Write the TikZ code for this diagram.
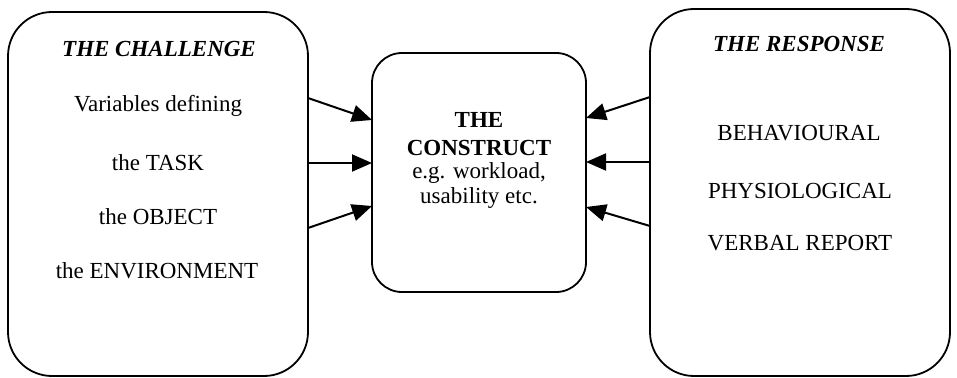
\documentclass[tikz,border=0pt]{standalone}
\usepackage{fontspec}
\setmainfont{Liberation Serif}
\usetikzlibrary{arrows.meta}
\tikzset{
  bigbox/.style={draw, line width=1.8pt, inner sep=0pt, outer sep=0pt},
  txt/.style={anchor=base, inner sep=0pt, font=\fontsize{23}{26}\selectfont},
  head/.style={txt, font=\fontsize{23}{26}\selectfont\bfseries\itshape},
  conn/.style={line width=2pt, -{Triangle[length=20pt,width=17pt]}}
}
\begin{document}
\begin{tikzpicture}[x=1pt,y=-1pt]
\useasboundingbox (0,0) rectangle (957,377);
% boxes
\node[bigbox, rounded corners=44pt, minimum width=300pt, minimum height=364pt] (L) at (158,194) {};
\node[bigbox, rounded corners=30pt, minimum width=214pt, minimum height=239pt] (C) at (479,172.5) {};
\node[bigbox, rounded corners=44pt, minimum width=300pt, minimum height=367pt] (R) at (800,192.5) {};
% left texts
\node[head] (lh) at (159,57) {THE CHALLENGE};
\node[txt] (l1) at (158,112) {Variables defining};
\node[txt] (l2) at (158,170) {the TASK};
\node[txt] (l3) at (158,224) {the OBJECT};
\node[txt] (l4) at (157,278) {the ENVIRONMENT};
% centre texts
\node[txt, font=\fontsize{23}{26}\selectfont\bfseries] (c1) at (479,128) {THE};
\node[txt, font=\fontsize{23}{26}\selectfont\bfseries] (c2) at (479,155) {CONSTRUCT};
\node[txt] (c3) at (479,178) {e.g. workload,};
\node[txt] (c4) at (479,203) {usability etc.};
% right texts
\node[head] (rh) at (799,52) {THE RESPONSE};
\node[txt] (r1) at (799,140) {BEHAVIOURAL};
\node[txt] (r2) at (800,198) {PHYSIOLOGICAL};
\node[txt] (r3) at (800,250) {VERBAL REPORT};
% connectors
\draw[conn] ([yshift=96pt]L.east) -- ([yshift=52.5pt]C.west);
\draw[conn] ([yshift=31pt]L.east) -- ([yshift=9.5pt]C.west);
\draw[conn] ([yshift=-34pt]L.east) -- ([yshift=-33.5pt]C.west);
\draw[conn] ([yshift=95.5pt]R.west) -- ([yshift=54.5pt]C.east);
\draw[conn] ([yshift=30.5pt]R.west) -- ([yshift=10.5pt]C.east);
\draw[conn] ([yshift=-33.5pt]R.west) -- ([yshift=-34.5pt]C.east);
\end{tikzpicture}
\end{document}
